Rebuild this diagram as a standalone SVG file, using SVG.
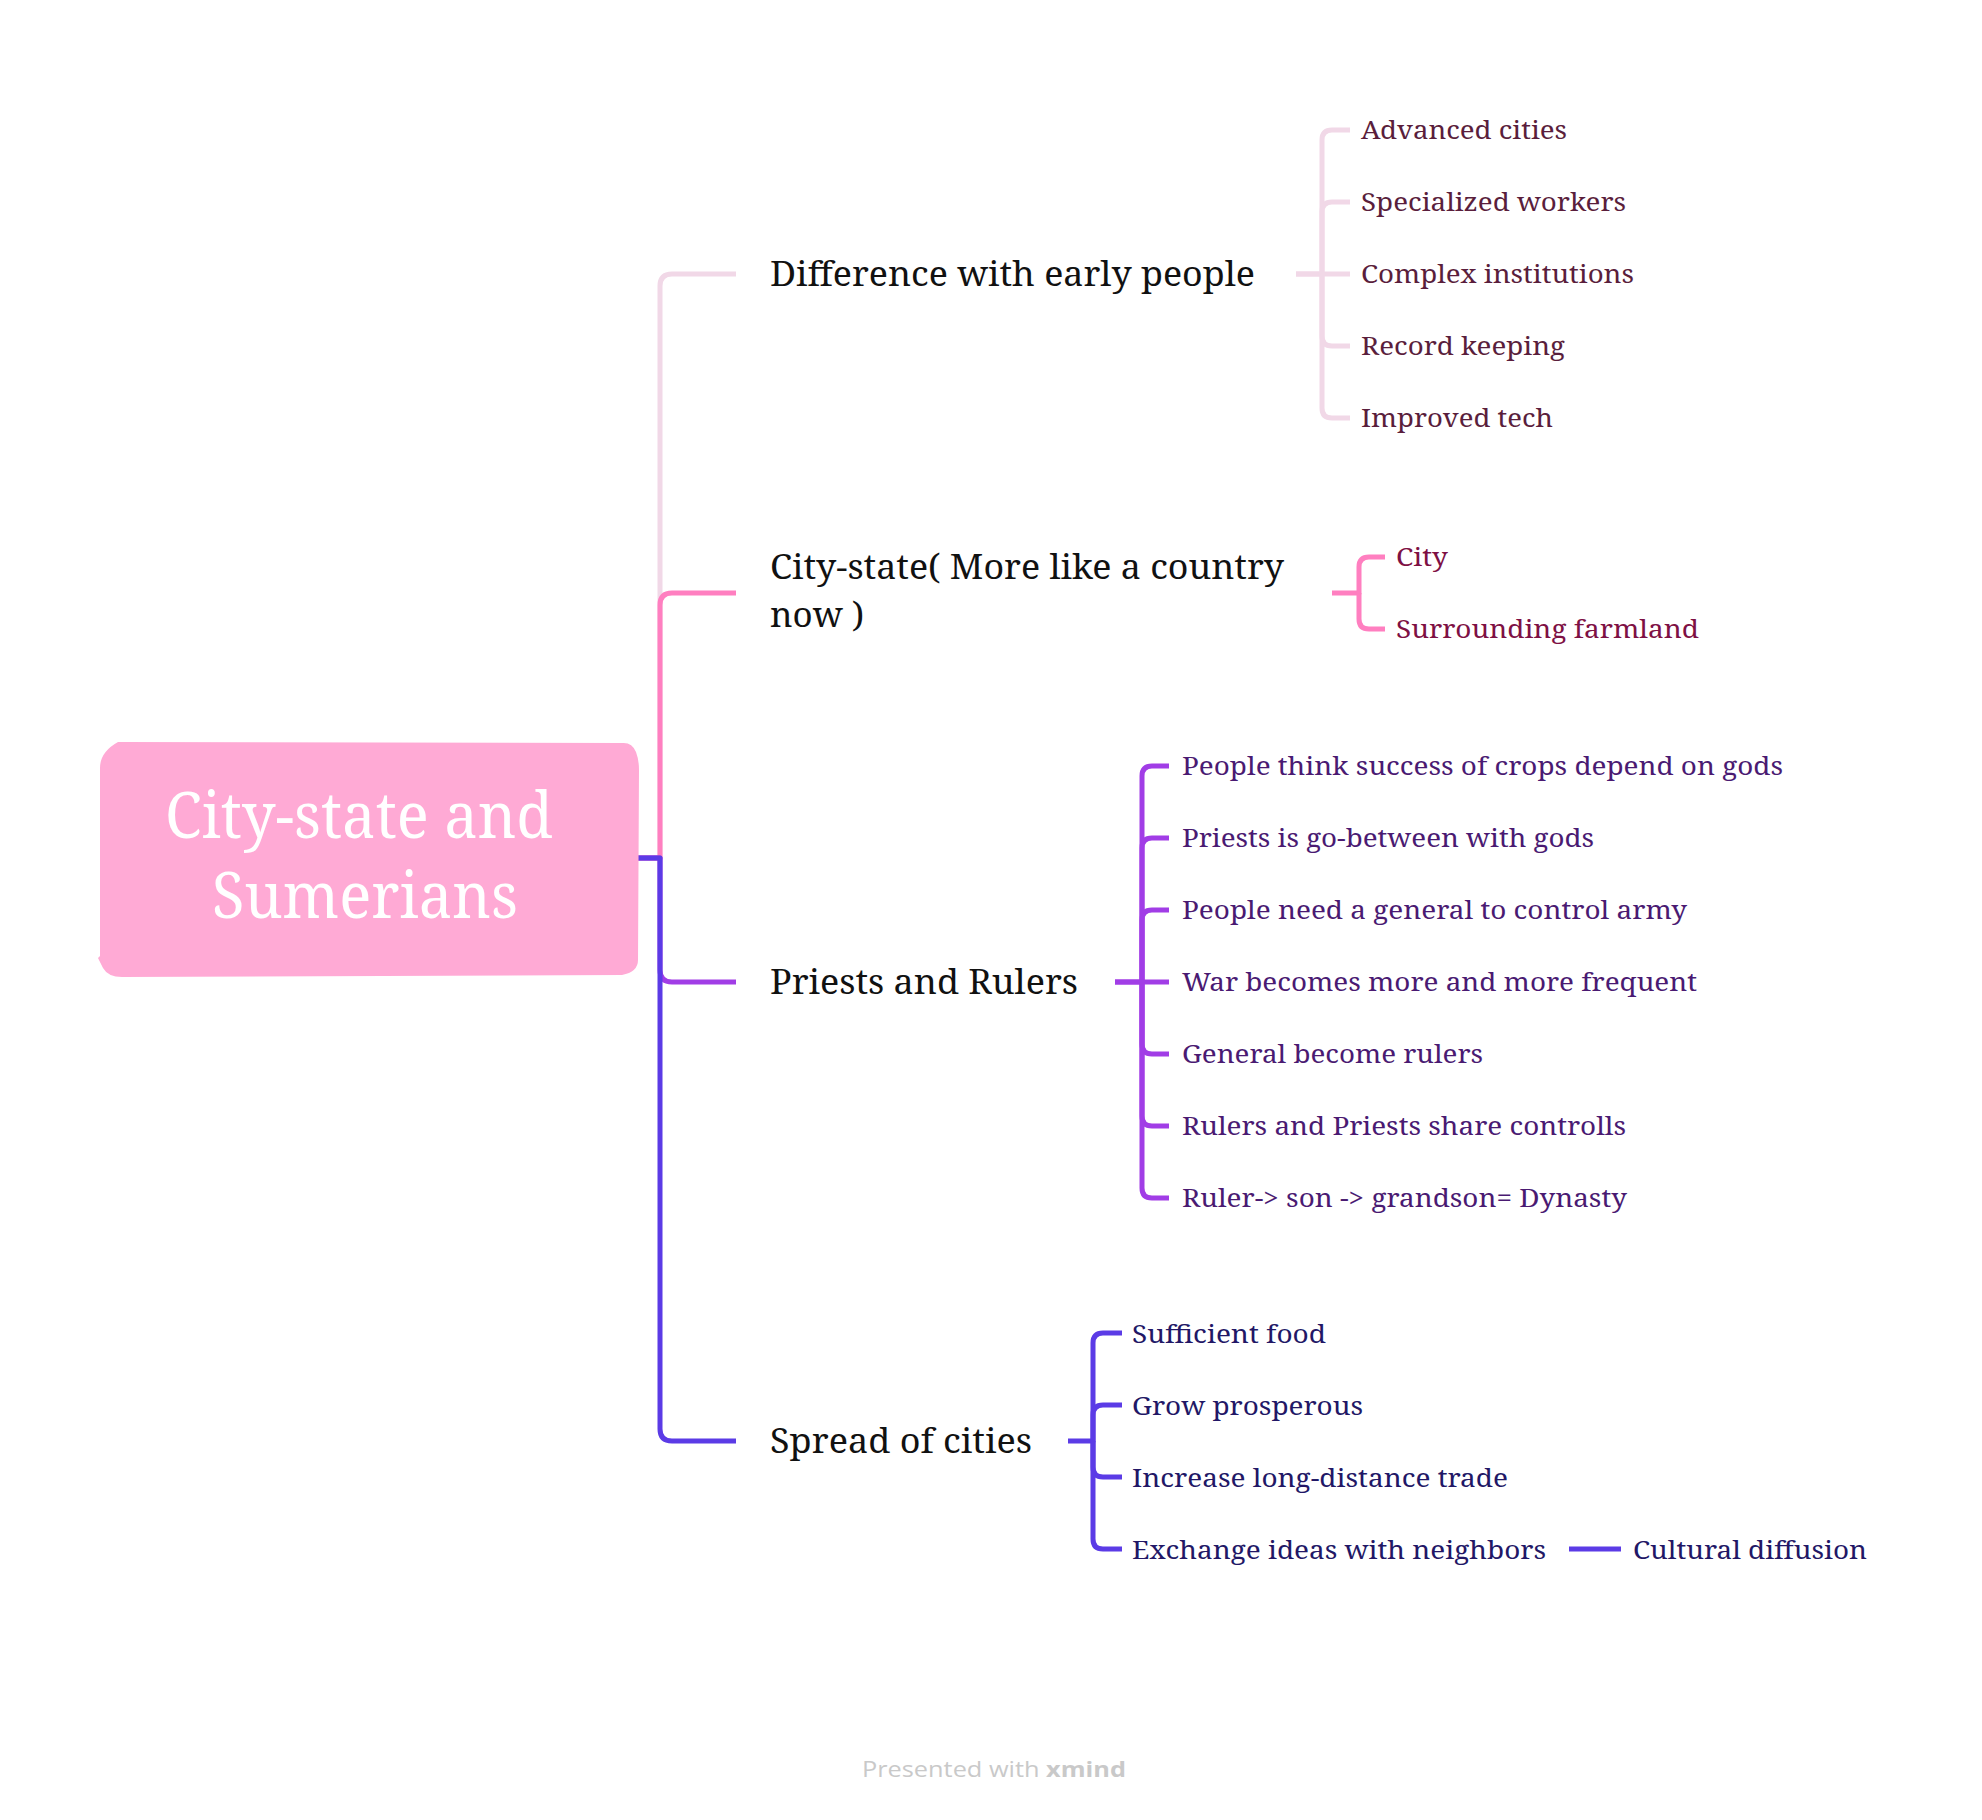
<svg xmlns="http://www.w3.org/2000/svg" width="1982" height="1820" viewBox="0 0 1982 1820">
<style>
.t{font-family:"Noto Serif","DejaVu Serif","Liberation Serif",serif}
.root{font-size:63px;fill:#ffffff;text-anchor:middle}
.main{font-size:35px;fill:#111111}
.sub{font-size:26px}
.c1{fill:#5a1e3c}.c2{fill:#7e1044}.c3{fill:#4a1a72}.c4{fill:#221766}
.ln{fill:none;stroke-width:5;stroke-linecap:butt;stroke-linejoin:round}
.s1{stroke:#f1d8e7}.s2{stroke:#ff7fc0}.s3{stroke:#a13de6}.s4{stroke:#5b3be6}
.wm{font-family:"Open Sans","Lato","Liberation Sans",sans-serif;font-size:21px;fill:#c9c9c9}
</style>
<rect width="1982" height="1820" fill="#ffffff"/>
<g id="connectors">
<path class="ln s1" d="M638,858 H660 V286 Q660,274 672,274 H736"/>
<path class="ln s2" d="M638,858 H660 V605 Q660,593 672,593 H736"/>
<path class="ln s3" d="M638,858 H660 V970 Q660,982 672,982 H736"/>
<path class="ln s4" d="M638,858 H660 V1429 Q660,1441 672,1441 H736"/>
<g class="s1">
<path class="ln" d="M1296,274 H1322 V140 Q1322,130 1332,130 H1350"/>
<path class="ln" d="M1322,274 V212 Q1322,202 1332,202 H1350"/>
<path class="ln" d="M1296,274 H1350"/>
<path class="ln" d="M1322,274 V336 Q1322,346 1332,346 H1350"/>
<path class="ln" d="M1322,274 V408 Q1322,418 1332,418 H1350"/>
</g>
<g class="s2">
<path class="ln" d="M1332,593 H1359 V567 Q1359,557 1369,557 H1385"/>
<path class="ln" d="M1359,593 V619 Q1359,629 1369,629 H1385"/>
</g>
<g class="s3">
<path class="ln" d="M1115,982 H1142 V776 Q1142,766 1152,766 H1169"/>
<path class="ln" d="M1142,982 V848 Q1142,838 1152,838 H1169"/>
<path class="ln" d="M1142,982 V920 Q1142,910 1152,910 H1169"/>
<path class="ln" d="M1115,982 H1169"/>
<path class="ln" d="M1142,982 V1044 Q1142,1054 1152,1054 H1169"/>
<path class="ln" d="M1142,982 V1116 Q1142,1126 1152,1126 H1169"/>
<path class="ln" d="M1142,982 V1188 Q1142,1198 1152,1198 H1169"/>
</g>
<g class="s4">
<path class="ln" d="M1068,1441 H1093 V1343 Q1093,1333 1103,1333 H1122"/>
<path class="ln" d="M1093,1441 V1415 Q1093,1405 1103,1405 H1122"/>
<path class="ln" d="M1093,1441 V1467 Q1093,1477 1103,1477 H1122"/>
<path class="ln" d="M1093,1441 V1539 Q1093,1549 1103,1549 H1122"/>
<path class="ln" d="M1569,1549 H1621"/>
</g>
</g>
<g id="root">
<path d="M118,742 L622,743 Q632,742 636,752 Q639,760 639,770 L638,960 Q638,972 622,975 L122,977 Q108,977 103,968 L98,958 L100,956 L100,768 Q100,752 118,742 Z" fill="#ffaad5"/>
<text class="t root" x="359" y="838" textLength="388" lengthAdjust="spacingAndGlyphs">City-state and</text>
<text class="t root" x="365" y="918" textLength="306" lengthAdjust="spacingAndGlyphs">Sumerians</text>
</g>
<g id="topic-difference">
<text class="t main" x="770" y="286" textLength="485" lengthAdjust="spacingAndGlyphs">Difference with early people</text>
</g>
<g id="topic-citystate">
<text class="t main" x="770" y="579" textLength="514" lengthAdjust="spacingAndGlyphs">City-state( More like a country</text>
<text class="t main" x="770" y="627" textLength="94" lengthAdjust="spacingAndGlyphs">now )</text>
</g>
<g id="topic-priests">
<text class="t main" x="770" y="994" textLength="308" lengthAdjust="spacingAndGlyphs">Priests and Rulers</text>
</g>
<g id="topic-spread">
<text class="t main" x="770" y="1453" textLength="262" lengthAdjust="spacingAndGlyphs">Spread of cities</text>
</g>
<g id="sub-advanced"><text class="t sub c1" x="1361" y="139" textLength="206" lengthAdjust="spacingAndGlyphs">Advanced cities</text></g>
<g id="sub-specialized"><text class="t sub c1" x="1361" y="211" textLength="265" lengthAdjust="spacingAndGlyphs">Specialized workers</text></g>
<g id="sub-complex"><text class="t sub c1" x="1361" y="283" textLength="273" lengthAdjust="spacingAndGlyphs">Complex institutions</text></g>
<g id="sub-record"><text class="t sub c1" x="1361" y="355" textLength="204" lengthAdjust="spacingAndGlyphs">Record keeping</text></g>
<g id="sub-improved"><text class="t sub c1" x="1361" y="427" textLength="192" lengthAdjust="spacingAndGlyphs">Improved tech</text></g>
<g id="sub-city"><text class="t sub c2" x="1396" y="566" textLength="52" lengthAdjust="spacingAndGlyphs">City</text></g>
<g id="sub-farmland"><text class="t sub c2" x="1396" y="638" textLength="303" lengthAdjust="spacingAndGlyphs">Surrounding farmland</text></g>
<g id="sub-p1"><text class="t sub c3" x="1182" y="775" textLength="601" lengthAdjust="spacingAndGlyphs">People think success of crops depend on gods</text></g>
<g id="sub-p2"><text class="t sub c3" x="1182" y="847" textLength="412" lengthAdjust="spacingAndGlyphs">Priests is go-between with gods</text></g>
<g id="sub-p3"><text class="t sub c3" x="1182" y="919" textLength="505" lengthAdjust="spacingAndGlyphs">People need a general to control army</text></g>
<g id="sub-p4"><text class="t sub c3" x="1182" y="991" textLength="515" lengthAdjust="spacingAndGlyphs">War becomes more and more frequent</text></g>
<g id="sub-p5"><text class="t sub c3" x="1182" y="1063" textLength="301" lengthAdjust="spacingAndGlyphs">General become rulers</text></g>
<g id="sub-p6"><text class="t sub c3" x="1182" y="1135" textLength="444" lengthAdjust="spacingAndGlyphs">Rulers and Priests share controlls</text></g>
<g id="sub-p7"><text class="t sub c3" x="1182" y="1207" textLength="445" lengthAdjust="spacingAndGlyphs">Ruler-&gt; son -&gt; grandson= Dynasty</text></g>
<g id="sub-s1"><text class="t sub c4" x="1132" y="1343" textLength="194" lengthAdjust="spacingAndGlyphs">Sufficient food</text></g>
<g id="sub-s2"><text class="t sub c4" x="1132" y="1415" textLength="231" lengthAdjust="spacingAndGlyphs">Grow prosperous</text></g>
<g id="sub-s3"><text class="t sub c4" x="1132" y="1487" textLength="376" lengthAdjust="spacingAndGlyphs">Increase long-distance trade</text></g>
<g id="sub-s4"><text class="t sub c4" x="1132" y="1559" textLength="414" lengthAdjust="spacingAndGlyphs">Exchange ideas with neighbors</text></g>
<g id="sub-s4a"><text class="t sub c4" x="1633" y="1559" textLength="234" lengthAdjust="spacingAndGlyphs">Cultural diffusion</text></g>
<text class="wm" x="862" y="1777" textLength="264" lengthAdjust="spacingAndGlyphs">Presented with <tspan font-weight="bold">xmind</tspan></text>
</svg>
